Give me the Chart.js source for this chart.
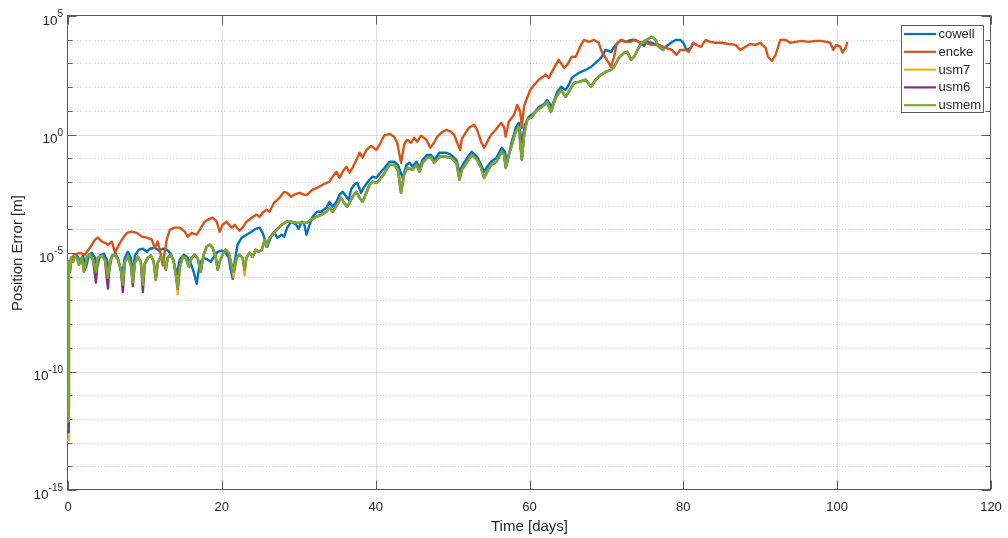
<!DOCTYPE html>
<html>
<head>
<meta charset="utf-8">
<script src="https://cdn.jsdelivr.net/npm/chart.js@4.4.1/dist/chart.umd.min.js"></script>
<style>
  html, body { margin: 0; padding: 0; background: #ffffff; }
  canvas { display: block; }
</style>
</head>
<body>
<canvas id="chart" width="1008" height="538"></canvas>
<script>
// Propagation position error of five formulations, log10 of error [m] against time [days].

const xTickValues = [0, 20, 40, 60, 80, 100, 120];
const yDecades = [-15, -14, -13, -12, -11, -10, -9, -8, -7, -6, -5, -4, -3, -2, -1, 0, 1, 2, 3, 4, 5];
const yLabelExponents = [-15, -10, -5, 0, 5];

const seriesNames = ['cowell', 'encke', 'usm7', 'usm6', 'usmem'];
const seriesColors = ['#0072BD', '#D95319', '#EDB120', '#7E2F8E', '#77AC30'];

// [day, log10(error in m)]
const cowellData = [
  [0,-11.8],[0.05,-6.76],[0.13,-5.37],[0.26,-5.62],[0.52,-5.20],[0.91,-5.07],[1.30,-5.16],[1.56,-5.41],[1.95,-5.11],[2.34,-5.62],
  [2.72,-5.07],[3.11,-4.99],[3.5,-5.20],[3.76,-5.62],[4.15,-5.11],[4.67,-5.03],[5.06,-5.28],[5.32,-5.79],[5.71,-5.11],[6.23,-5.03],
  [6.62,-5.37],[7.0,-5.96],[7.39,-5.20],[7.78,-4.95],[8.17,-5.20],[8.43,-5.91],[8.69,-5.11],[9.21,-4.86],[9.73,-4.82],[10.25,-4.95],
  [10.64,-4.82],[11.28,-4.78],[11.8,-4.90],[12.32,-4.82],[12.84,-4.86],[13.36,-5.03],[13.75,-5.37],[14.14,-5.91],[14.53,-5.28],[15.05,-5.07],
  [15.57,-5.20],[15.96,-5.45],[16.34,-5.79],[16.73,-6.30],[17.12,-5.45],[17.64,-5.20],[18.16,-5.28],[18.55,-5.37],[19.07,-5.11],[19.46,-4.95],
  [19.98,-4.90],[20.5,-4.99],[20.9,-5.20],[21.15,-5.70],[21.41,-6.09],[21.67,-5.37],[22.05,-4.65],[22.57,-4.36],[23.22,-4.23],[23.87,-4.10],
  [24.39,-3.98],[24.91,-3.93],[25.3,-4.15],[25.7,-4.52],[25.9,-4.74],[26.5,-4.23],[26.8,-4.10],[27.2,-4.36],[27.8,-4.23],[28.1,-4.31],
  [28.5,-3.93],[29.0,-3.68],[29.7,-3.81],[29.97,-3.98],[30.4,-3.68],[30.7,-3.77],[31.0,-4.23],[31.4,-3.81],[31.8,-3.47],[32.4,-3.26],
  [32.9,-3.26],[33.6,-3.09],[34.0,-2.84],[34.4,-3.05],[34.9,-2.84],[35.3,-2.54],[35.7,-2.42],[36.2,-2.63],[36.5,-2.75],[36.8,-2.33],
  [37.2,-2.12],[37.6,-2.04],[38.1,-2.46],[38.5,-2.21],[39.2,-1.91],[39.6,-1.78],[40.1,-1.83],[40.7,-1.57],[41.3,-1.36],[41.8,-1.15],
  [42.4,-1.15],[42.9,-1.28],[43.5,-1.83],[44.0,-1.28],[44.4,-1.19],[44.8,-1.36],[45.3,-1.15],[45.7,-1.40],[46.1,-1.07],[46.7,-0.86],
  [47.2,-0.86],[47.6,-1.07],[48.3,-0.77],[49.2,-0.77],[49.8,-0.86],[50.5,-1.07],[50.9,-1.57],[51.2,-1.36],[51.9,-0.98],[52.5,-0.73],
  [53.2,-0.94],[53.7,-1.28],[54.1,-1.57],[54.5,-1.36],[55.0,-1.15],[55.7,-0.98],[56.4,-0.56],[56.8,-0.73],[57.1,-1.19],[57.6,-0.43],
  [58.2,0.28],[58.6,0.49],[59.0,-0.31],[59.4,0.41],[59.9,0.74],[60.6,0.91],[61.2,1.16],[61.9,1.29],[62.3,1.46],[62.9,1.16],
  [63.6,1.80],[64.1,2.01],[64.7,1.88],[65.1,2.09],[65.5,2.39],[66.4,2.60],[67.3,2.73],[68.0,2.85],[68.6,3.02],[69.3,3.23],
  [69.9,3.57],[70.6,3.49],[71.2,3.78],[71.9,3.99],[72.5,3.91],[73.2,3.99],[73.8,3.99],[74.2,3.91],[74.9,3.74],[75.2,3.91],
  [75.9,3.87],[76.5,3.78],[77.2,3.66],[77.7,3.70],[78.4,3.87],[79.0,3.99],[79.6,3.99],[80.0,3.87],[80.4,3.57],[81.0,3.66],
  [81.3,3.87]
];

const enckeData = [
  [0,-11.6],[0.13,-5.71],[0.26,-5.37],[0.91,-5.07],[1.56,-4.99],[2.2,-5.07],[2.85,-4.78],[3.5,-4.44],[3.89,-4.35],[4.41,-4.52],
  [4.8,-4.57],[5.19,-4.65],[5.71,-4.52],[6.1,-4.99],[6.49,-4.73],[7.0,-4.44],[7.65,-4.15],[8.3,-4.10],[8.95,-4.15],[9.6,-4.31],
  [10.25,-4.35],[10.9,-4.44],[11.28,-4.78],[11.67,-4.52],[12.06,-5.07],[12.32,-5.53],[12.58,-4.95],[12.84,-4.44],[13.23,-4.02],[13.88,-3.93],
  [14.53,-3.93],[15.18,-4.10],[15.57,-4.31],[16.08,-4.15],[16.73,-4.23],[17.12,-4.02],[17.77,-3.68],[18.16,-3.60],[18.81,-3.51],[19.33,-3.68],
  [19.72,-4.10],[20.1,-3.81],[20.6,-3.68],[21.3,-3.93],[21.66,-3.81],[22.3,-4.06],[22.7,-3.93],[23.2,-3.68],[23.9,-3.51],[24.5,-3.38],
  [24.9,-3.47],[25.3,-3.30],[25.8,-3.17],[26.2,-3.26],[26.8,-2.88],[27.5,-2.67],[28.1,-2.42],[28.5,-2.46],[29.0,-2.63],[29.4,-2.54],
  [30.1,-2.46],[30.7,-2.54],[31.1,-2.54],[31.8,-2.33],[32.4,-2.25],[33.1,-2.12],[34.0,-1.99],[34.4,-1.78],[34.9,-1.57],[35.3,-1.83],
  [35.7,-1.57],[36.2,-1.36],[36.6,-1.61],[37.0,-1.40],[37.5,-1.07],[37.9,-0.77],[38.3,-0.98],[38.8,-0.65],[39.4,-0.48],[40.1,-0.65],
  [40.5,-0.43],[41.1,-0.05],[41.8,0.03],[42.4,-0.10],[42.8,-0.35],[43.3,-1.19],[43.7,-0.43],[44.1,-0.22],[44.6,-0.35],[45.0,-0.14],
  [45.4,-0.31],[45.9,-0.05],[46.6,-0.22],[47.1,-0.56],[47.5,-0.39],[48.0,-0.10],[48.5,0.07],[49.2,0.20],[49.8,0.11],[50.2,-0.01],
  [50.6,-0.35],[51.0,-0.65],[51.2,-0.18],[52.1,0.28],[52.8,0.41],[53.2,0.20],[53.7,-0.31],[54.1,-0.56],[54.5,-0.31],[55.0,-0.01],
  [55.6,0.20],[56.3,0.49],[56.7,0.32],[56.9,-0.10],[57.3,0.54],[58.0,0.83],[58.4,1.25],[58.8,0.96],[59.0,0.28],[59.3,1.21],
  [59.7,1.55],[60.1,1.88],[60.6,2.09],[61.2,2.31],[62.1,2.52],[62.5,2.39],[63.2,2.81],[63.8,3.15],[64.5,2.81],[64.9,2.94],
  [65.5,3.28],[66.0,3.28],[66.7,3.78],[67.1,3.99],[67.7,3.91],[68.4,3.99],[69.0,3.87],[69.4,3.49],[69.9,3.23],[70.6,2.85],
  [71.0,3.28],[71.3,3.78],[71.9,3.99],[72.5,3.91],[73.2,3.91],[73.6,3.99],[74.2,3.91],[75.1,3.87],[75.9,3.78],[76.8,3.78],
  [77.7,3.66],[78.5,3.57],[79.1,3.36],[79.6,3.57],[80.3,3.57],[80.7,3.49],[81.3,3.87],[81.7,3.78],[82.3,3.70],[82.9,3.99],
  [83.5,3.91],[84.2,3.87],[85.0,3.87],[85.9,3.82],[86.8,3.78],[87.4,3.57],[88.1,3.70],[88.7,3.82],[89.4,3.78],[90.0,3.87],
  [90.7,3.66],[91.0,3.28],[91.5,3.11],[92.0,3.36],[92.6,3.99],[93.3,3.99],[93.9,3.87],[94.6,3.91],[95.4,3.95],[96.3,3.91],
  [97.2,3.95],[97.9,3.95],[98.6,3.91],[99.1,3.87],[99.5,3.57],[99.9,3.78],[100.4,3.70],[100.7,3.45],[101.1,3.66],[101.3,3.87]
];

// The three USM variants share one output time grid.
const usmDays = [
  0, 0.05, 0.13, 0.26, 0.39, 0.65, 0.91, 1.17, 1.43, 1.82,
  2.08, 2.47, 2.85, 3.24, 3.63, 3.89, 4.41, 4.8, 5.19, 5.45,
  5.71, 6.1, 6.49, 6.87, 7.13, 7.39, 7.78, 8.17, 8.43, 8.69,
  9.08, 9.47, 9.73, 9.99, 10.38, 10.77, 11.15, 11.41, 11.67, 12.06,
  12.45, 12.71, 12.97, 13.36, 13.75, 14.01, 14.27, 14.53, 14.92, 15.31,
  15.69, 16.08, 16.47, 16.87, 17.26, 17.64, 18.03, 18.42, 18.81, 19.2,
  19.46, 19.72, 20.1, 20.5, 20.9, 21.28, 21.54, 21.93, 22.3, 22.7,
  22.96, 23.2, 23.6, 24.0, 24.4, 24.8, 25.2, 25.6, 25.8, 26.2,
  26.6, 27.1, 27.8, 28.4, 29.0, 29.7, 30.3, 31.0, 31.6, 32.3,
  32.9, 33.6, 34.0, 34.4, 35.0, 35.5, 35.9, 36.3, 37.0, 37.5,
  37.9, 38.3, 38.8, 39.2, 39.6, 40.1, 40.5, 41.0, 41.8, 42.4,
  42.9, 43.3, 43.7, 44.1, 44.8, 45.3, 45.7, 46.1, 46.7, 47.2,
  47.6, 48.3, 49.2, 49.8, 50.5, 50.9, 51.2, 51.9, 52.5, 53.2,
  53.7, 54.1, 54.5, 55.0, 55.7, 56.4, 56.7, 56.9, 57.3, 57.6,
  58.2, 58.6, 59.0, 59.3, 59.7, 60.3, 61.0, 61.6, 62.3, 62.8,
  63.4, 64.1, 64.7, 65.1, 65.8, 66.4, 67.3, 68.0, 68.6, 69.3,
  69.9, 70.6, 71.0, 71.6, 72.3, 72.7, 73.2, 73.6, 74.2, 74.6,
  75.2, 75.9, 76.4, 76.8, 77.4
];

const usm7Log = [
  -12.9, -6.76, -5.37, -5.79, -5.20, -5.37, -5.11, -5.20, -5.49, -5.20,
  -5.79, -5.16, -5.07, -5.28, -5.79, -5.20, -5.11, -5.28, -6.20, -5.37,
  -5.16, -5.07, -5.28, -5.70, -6.45, -5.37, -5.16, -5.49, -6.26, -5.41,
  -5.16, -5.37, -6.34, -5.45, -5.20, -5.11, -5.37, -6.13, -5.41, -5.16,
  -5.28, -5.70, -5.20, -5.07, -5.37, -5.91, -6.75, -5.62, -5.16, -5.20,
  -5.58, -5.20, -5.07, -5.24, -5.79, -5.07, -4.73, -4.65, -4.78, -5.16,
  -5.70, -5.37, -5.07, -4.86, -4.99, -5.54, -6.00, -5.20, -5.07, -5.20,
  -5.95, -5.20, -4.99, -5.16, -4.86, -4.95, -4.86, -4.44, -4.73, -4.36,
  -4.23, -4.02, -3.81, -3.68, -3.68, -3.73, -3.73, -3.73, -3.60, -3.47,
  -3.39, -3.26, -3.09, -3.26, -2.96, -2.67, -2.88, -3.05, -2.63, -2.42,
  -2.67, -2.84, -2.46, -2.12, -1.99, -2.04, -1.91, -1.70, -1.28, -1.28,
  -1.49, -2.46, -1.70, -1.40, -1.49, -1.28, -1.57, -1.19, -0.98, -0.98,
  -1.19, -0.94, -0.94, -0.98, -1.19, -1.91, -1.49, -1.15, -0.86, -1.07,
  -1.40, -1.83, -1.57, -1.28, -1.15, -0.73, -0.86, -1.40, -0.86, -0.56,
  0.11, 0.32, -1.07, -0.01, 0.62, 0.74, 1.04, 1.16, 1.37, 0.95,
  1.55, 1.88, 1.59, 1.80, 2.18, 2.22, 2.31, 2.01, 2.31, 2.52,
  2.64, 2.73, 2.85, 3.23, 3.44, 3.49, 3.15, 3.28, 3.66, 3.87,
  3.99, 4.12, 3.99, 3.70, 3.57
];

const usm6Log = [
  -12.55, -6.76, -5.37, -5.79, -5.20, -5.37, -5.11, -5.20, -5.49, -5.20,
  -5.79, -5.16, -5.07, -5.28, -6.25, -5.20, -5.11, -5.28, -6.50, -5.37,
  -5.16, -5.07, -5.28, -5.70, -6.65, -5.37, -5.16, -5.49, -6.40, -5.41,
  -5.16, -5.37, -6.65, -5.45, -5.20, -5.11, -5.37, -6.13, -5.41, -5.16,
  -5.28, -5.70, -5.20, -5.07, -5.37, -5.91, -6.50, -5.62, -5.16, -5.20,
  -5.58, -5.20, -5.07, -5.24, -5.79, -5.07, -4.73, -4.65, -4.78, -5.16,
  -5.70, -5.37, -5.07, -4.86, -4.99, -5.54, -5.79, -5.20, -5.07, -5.20,
  -5.70, -5.20, -4.99, -5.16, -4.86, -4.95, -4.86, -4.44, -4.73, -4.36,
  -4.23, -4.02, -3.81, -3.68, -3.68, -3.73, -3.73, -3.73, -3.60, -3.47,
  -3.39, -3.26, -3.09, -3.26, -2.96, -2.67, -2.88, -3.05, -2.63, -2.42,
  -2.67, -2.84, -2.46, -2.12, -1.99, -2.04, -1.91, -1.70, -1.28, -1.28,
  -1.49, -2.46, -1.70, -1.40, -1.49, -1.28, -1.57, -1.19, -0.98, -0.98,
  -1.19, -0.94, -0.94, -0.98, -1.19, -1.91, -1.49, -1.15, -0.86, -1.07,
  -1.40, -1.83, -1.57, -1.28, -1.15, -0.73, -0.86, -1.40, -0.86, -0.56,
  0.11, 0.32, -1.07, -0.01, 0.62, 0.74, 1.04, 1.16, 1.37, 0.95,
  1.55, 1.88, 1.59, 1.80, 2.18, 2.22, 2.31, 2.01, 2.31, 2.52,
  2.64, 2.73, 2.85, 3.23, 3.44, 3.49, 3.15, 3.28, 3.66, 3.87,
  3.99, 4.12, 3.99, 3.70, 3.57
];

const usmemLog = [
  -12.12, -6.76, -5.37, -5.79, -5.20, -5.37, -5.11, -5.20, -5.49, -5.20,
  -5.79, -5.16, -5.07, -5.28, -5.79, -5.20, -5.11, -5.28, -6.05, -5.37,
  -5.16, -5.07, -5.28, -5.70, -6.34, -5.37, -5.16, -5.49, -6.26, -5.41,
  -5.16, -5.37, -6.34, -5.45, -5.20, -5.11, -5.37, -6.13, -5.41, -5.16,
  -5.28, -5.70, -5.20, -5.07, -5.37, -5.91, -6.47, -5.62, -5.16, -5.20,
  -5.58, -5.20, -5.07, -5.24, -5.79, -5.07, -4.73, -4.65, -4.78, -5.16,
  -5.70, -5.37, -5.07, -4.86, -4.99, -5.54, -5.79, -5.20, -5.07, -5.20,
  -5.70, -5.20, -4.99, -5.16, -4.86, -4.95, -4.86, -4.44, -4.73, -4.36,
  -4.23, -4.02, -3.81, -3.68, -3.68, -3.73, -3.73, -3.73, -3.60, -3.47,
  -3.39, -3.26, -3.09, -3.26, -2.96, -2.67, -2.88, -3.05, -2.63, -2.42,
  -2.67, -2.84, -2.46, -2.12, -1.99, -2.04, -1.91, -1.70, -1.28, -1.28,
  -1.49, -2.46, -1.70, -1.40, -1.49, -1.28, -1.57, -1.19, -0.98, -0.98,
  -1.19, -0.94, -0.94, -0.98, -1.19, -1.91, -1.49, -1.15, -0.86, -1.07,
  -1.40, -1.83, -1.57, -1.28, -1.15, -0.73, -0.86, -1.40, -0.86, -0.56,
  0.11, 0.32, -1.07, -0.01, 0.62, 0.74, 1.04, 1.16, 1.37, 0.95,
  1.55, 1.88, 1.59, 1.80, 2.18, 2.22, 2.31, 2.01, 2.31, 2.52,
  2.64, 2.73, 2.85, 3.23, 3.44, 3.49, 3.15, 3.28, 3.66, 3.87,
  3.99, 4.12, 3.99, 3.70, 3.57
];

const FONT = '"Liberation Sans", Arial, Helvetica, sans-serif';
const TEXT_COLOR = '#262626';
const AXIS_COLOR = '#5a5a5a';

const fromPairs = pairs => pairs.map(([d, lg]) => ({ x: d, y: Math.pow(10, lg) }));
const fromGrid = (days, logs) => days.map((d, i) => ({ x: d, y: Math.pow(10, logs[i]) }));

const seriesPoints = [
  fromPairs(cowellData),
  fromPairs(enckeData),
  fromGrid(usmDays, usm7Log),
  fromGrid(usmDays, usm6Log),
  fromGrid(usmDays, usmemLog)
];

// later series are painted on top of earlier ones
const datasets = seriesNames.map((name, i) => ({
  label: name,
  data: seriesPoints[i],
  borderColor: seriesColors[i],
  backgroundColor: seriesColors[i],
  borderWidth: 2.4,
  pointRadius: 0,
  pointHoverRadius: 0,
  tension: 0,
  fill: false,
  borderJoinStyle: 'round',
  borderCapStyle: 'round',
  clip: false,
  order: seriesNames.length - 1 - i
}));

const crisp = v => Math.round(v) + 0.5;

// Grid, boxed axes with inward ticks, power-of-ten labels and the inset legend.
const axesPlugin = {
  id: 'boxedAxes',
  beforeDatasetsDraw(chart) {
    const ctx = chart.ctx;
    const { left, right, top, bottom } = chart.chartArea;
    const xs = chart.scales.x, ys = chart.scales.y;
    ctx.save();
    ctx.lineWidth = 1;

    // vertical grid
    ctx.strokeStyle = 'rgba(38,38,38,0.15)';
    ctx.setLineDash([]);
    xTickValues.forEach(v => {
      const px = crisp(xs.getPixelForValue(v));
      if (px <= left + 1 || px >= right - 1) return;
      ctx.beginPath(); ctx.moveTo(px, top); ctx.lineTo(px, bottom); ctx.stroke();
    });

    // horizontal grid: solid at labelled decades, dotted between
    yDecades.forEach(e => {
      const py = crisp(ys.getPixelForValue(Math.pow(10, e)));
      if (py <= top + 1 || py >= bottom - 1) return;
      if (yLabelExponents.includes(e)) {
        ctx.strokeStyle = 'rgba(38,38,38,0.15)';
        ctx.setLineDash([]);
      } else {
        ctx.strokeStyle = 'rgba(38,38,38,0.2)';
        ctx.setLineDash([1, 2]);
      }
      ctx.beginPath(); ctx.moveTo(left, py); ctx.lineTo(right, py); ctx.stroke();
    });
    ctx.setLineDash([]);

    // box
    ctx.strokeStyle = AXIS_COLOR;
    const L = crisp(left) - 1, R = crisp(right) - 1, T = crisp(top) - 1, B = crisp(bottom) - 1;
    ctx.strokeRect(L, T, R - L, B - T);

    // x ticks, bottom and top, pointing inward
    xTickValues.forEach(v => {
      const px = crisp(xs.getPixelForValue(v));
      ctx.beginPath();
      ctx.moveTo(px, B); ctx.lineTo(px, B - 9);
      ctx.moveTo(px, T); ctx.lineTo(px, T + 9);
      ctx.stroke();
    });

    // y ticks, left and right
    yDecades.forEach(e => {
      const py = crisp(ys.getPixelForValue(Math.pow(10, e)));
      const len = yLabelExponents.includes(e) ? 9 : 5;
      ctx.beginPath();
      ctx.moveTo(L, py); ctx.lineTo(L + len, py);
      ctx.moveTo(R, py); ctx.lineTo(R - len, py);
      ctx.stroke();
    });

    // y tick labels: "10" with a raised exponent
    ctx.fillStyle = TEXT_COLOR;
    ctx.textBaseline = 'alphabetic';
    ctx.textAlign = 'right';
    const rightEdge = left - 5;
    yLabelExponents.forEach(e => {
      const py = ys.getPixelForValue(Math.pow(10, e));
      const expText = String(e);
      ctx.font = '10px ' + FONT;
      const expW = ctx.measureText(expText).width;
      ctx.fillText(expText, rightEdge, py + 1.3);
      ctx.font = '13.5px ' + FONT;
      ctx.fillText('10', rightEdge - expW, py + 8.8);
    });
    ctx.restore();
  },
  afterDraw(chart) {
    const ctx = chart.ctx;
    const bx = 901.5, by = 25.5, bw = 82, bh = 87;
    ctx.save();
    ctx.fillStyle = '#ffffff';
    ctx.fillRect(bx, by, bw, bh);
    ctx.strokeStyle = AXIS_COLOR;
    ctx.lineWidth = 1;
    ctx.strokeRect(bx, by, bw, bh);
    ctx.font = '13px ' + FONT;
    ctx.textBaseline = 'middle';
    ctx.textAlign = 'left';
    chart.data.datasets.forEach((ds, i) => {
      const y = 34 + i * 17.8;
      ctx.strokeStyle = ds.borderColor;
      ctx.lineWidth = 2.2;
      ctx.beginPath(); ctx.moveTo(904, y); ctx.lineTo(936, y); ctx.stroke();
      ctx.fillStyle = TEXT_COLOR;
      ctx.fillText(ds.label, 938.5, y + 0.5);
    });
    ctx.restore();
  }
};

new Chart(document.getElementById('chart'), {
  type: 'line',
  data: { datasets },
  options: {
    responsive: false,
    animation: false,
    devicePixelRatio: 1,
    events: [],
    parsing: true,
    layout: { padding: { top: 16, right: 17, left: 0, bottom: 0 } },
    plugins: { legend: { display: false }, tooltip: { enabled: false } },
    scales: {
      x: {
        type: 'linear',
        min: 0,
        max: 120,
        grid: { display: false },
        border: { display: false },
        afterBuildTicks: scale => { scale.ticks = xTickValues.map(v => ({ value: v })); },
        afterFit: scale => { scale.height = 48; },
        ticks: {
          color: TEXT_COLOR,
          font: { family: FONT, size: 13 },
          padding: 2,
          maxRotation: 0,
          autoSkip: false
        },
        title: {
          display: true,
          text: 'Time [days]',
          color: TEXT_COLOR,
          font: { family: FONT, size: 15 },
          padding: { top: 0, bottom: 2 }
        }
      },
      y: {
        type: 'logarithmic',
        min: 1e-15,
        max: 1e5,
        grid: { display: false },
        border: { display: false },
        ticks: { display: false },
        afterFit: scale => { scale.width = 68; },
        title: {
          display: true,
          text: 'Position Error [m]',
          color: TEXT_COLOR,
          font: { family: FONT, size: 15 },
          padding: { top: 9, bottom: 0 }
        }
      }
    }
  },
  plugins: [axesPlugin]
});
</script>
</body>
</html>
